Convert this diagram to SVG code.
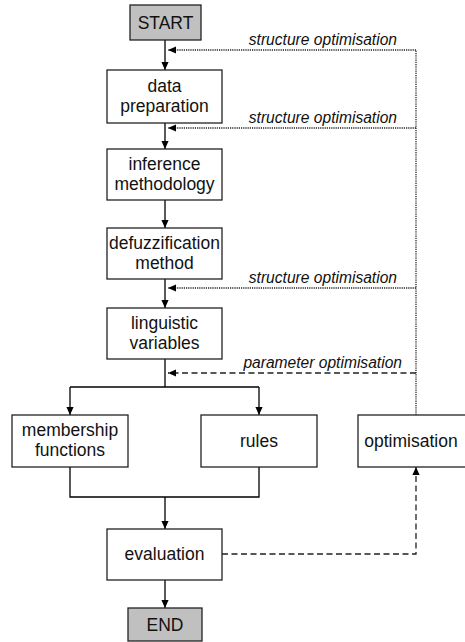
<svg xmlns="http://www.w3.org/2000/svg" width="465" height="642" viewBox="0 0 465 642">
<defs>
<marker id="ah" viewBox="0 0 10 10" refX="10" refY="5" markerWidth="8" markerHeight="8" markerUnits="userSpaceOnUse" orient="auto">
<path d="M0,0.5 L10,5 L0,9.5 Z" fill="#000"/>
</marker>
<style>
.box{fill:#fff;stroke:#222;stroke-width:1.3}
.term{fill:#c0c0c0;stroke:#222;stroke-width:1.3}
.t{font-family:"Liberation Sans",Arial,sans-serif;font-size:17.5px;fill:#111;text-anchor:middle}
.lbl{font-family:"Liberation Sans",Arial,sans-serif;font-size:15.6px;font-style:italic;fill:#111;text-anchor:end}
.ln{fill:none;stroke:#000;stroke-width:1.3}
.dot{fill:none;stroke:#222;stroke-width:1.3;stroke-dasharray:1.2 1}
.dash{fill:none;stroke:#222;stroke-width:1.3;stroke-dasharray:6 3.5}
</style>
</defs>
<rect width="465" height="642" fill="#fff"/>
<g id="connectors">
<line class="ln" x1="165" y1="40" x2="165" y2="70" marker-end="url(#ah)"/>
<line class="ln" x1="165" y1="123" x2="165" y2="149" marker-end="url(#ah)"/>
<line class="ln" x1="165" y1="200" x2="165" y2="228" marker-end="url(#ah)"/>
<line class="ln" x1="165" y1="279" x2="165" y2="308" marker-end="url(#ah)"/>
<polyline class="ln" points="165,359 165,387"/>
<polyline class="ln" points="70,387 259,387"/>
<line class="ln" x1="70" y1="387" x2="70" y2="415" marker-end="url(#ah)"/>
<line class="ln" x1="259" y1="387" x2="259" y2="415" marker-end="url(#ah)"/>
<polyline class="ln" points="70,467 70,497 259,497 259,467"/>
<line class="ln" x1="165" y1="497" x2="165" y2="529" marker-end="url(#ah)"/>
<line class="ln" x1="165" y1="580" x2="165" y2="608" marker-end="url(#ah)"/>
<polyline class="dot" points="416,415 416,50"/>
<line class="dot" x1="416" y1="50" x2="168" y2="50" marker-end="url(#ah)"/>
<line class="dot" x1="416" y1="128" x2="168" y2="128" marker-end="url(#ah)"/>
<line class="dot" x1="416" y1="288" x2="168" y2="288" marker-end="url(#ah)"/>
<line class="dash" x1="416" y1="373" x2="168" y2="373" marker-end="url(#ah)"/>
<polyline class="dash" points="222,554 416,554 416,467" marker-end="url(#ah)"/>
<text class="lbl" x="397" y="45">structure optimisation</text>
<text class="lbl" x="397" y="123">structure optimisation</text>
<text class="lbl" x="397" y="283">structure optimisation</text>
<text class="lbl" x="402" y="368">parameter optimisation</text>
</g>
<g id="start"><rect class="term" x="130" y="5" width="71" height="35"/><text class="t" x="165.5" y="28.5">START</text></g>
<g id="data-preparation"><rect class="box" x="107" y="70" width="115" height="53"/><text class="t" x="164.5" y="92">data</text><text class="t" x="164.5" y="111.5">preparation</text></g>
<g id="inference-methodology"><rect class="box" x="107" y="149" width="115" height="51"/><text class="t" x="164.5" y="170">inference</text><text class="t" x="164.5" y="189.5">methodology</text></g>
<g id="defuzzification-method"><rect class="box" x="107" y="228" width="115" height="51"/><text class="t" x="164.5" y="249">defuzzification</text><text class="t" x="164.5" y="268.5">method</text></g>
<g id="linguistic-variables"><rect class="box" x="107" y="308" width="115" height="51"/><text class="t" x="164.5" y="329">linguistic</text><text class="t" x="164.5" y="348.5">variables</text></g>
<g id="membership-functions"><rect class="box" x="12" y="415" width="116" height="52"/><text class="t" x="70" y="436">membership</text><text class="t" x="70" y="455.5">functions</text></g>
<g id="rules"><rect class="box" x="201" y="415" width="116" height="52"/><text class="t" x="259" y="447">rules</text></g>
<g id="optimisation"><rect class="box" x="358" y="415" width="108" height="52"/><text class="t" x="411" y="447">optimisation</text></g>
<g id="evaluation"><rect class="box" x="107" y="529" width="115" height="51"/><text class="t" x="164.5" y="560">evaluation</text></g>
<g id="end"><rect class="term" x="128" y="608" width="74" height="33"/><text class="t" x="165" y="631">END</text></g>
</svg>
